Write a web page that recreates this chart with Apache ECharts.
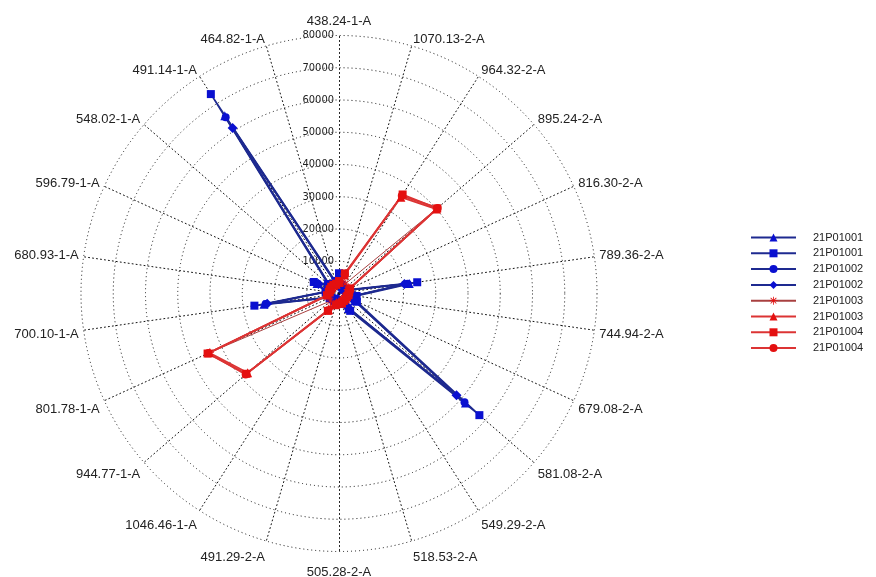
<!DOCTYPE html>
<html>
<head>
<meta charset="utf-8">
<script src="https://cdn.jsdelivr.net/npm/echarts@6/dist/echarts.min.js"></script>
<style>html,body{margin:0;padding:0;background:#fff}#c{width:876px;height:577px}</style>
</head>
<body>
<div id="c"></div>
<script>
// axes in clockwise order starting at the top
var categories = ['438.24-1-A','1070.13-2-A','964.32-2-A','895.24-2-A','816.30-2-A','789.36-2-A','744.94-2-A','679.08-2-A','581.08-2-A','549.29-2-A','518.53-2-A','505.28-2-A','491.29-2-A','1046.46-1-A','944.77-1-A','801.78-1-A','700.10-1-A','680.93-1-A','596.79-1-A','548.02-1-A','491.14-1-A','464.82-1-A'];
var seriesNames = ['21P01001','21P01001 ','21P01002','21P01002 ','21P01003','21P01003 ','21P01004','21P01004 '];
var radialMax = 80000;
var radialStep = 10000;

var s21P01001a = [5500,2500,2000,2000,2500,22000,5000,5500,51900,5500,3000,2500,2000,2500,2500,3000,23500,4000,7500,4000,65500,3500];
var s21P01001b = [6200,2800,2200,2200,2800,24500,5500,6100,57600,6400,3200,2600,2200,2600,2600,3200,26500,4200,8600,4500,73500,4000];
var s21P01002a = [5000,2300,1800,1800,2300,21500,4800,5200,51500,5200,2800,2300,1800,2300,2300,2800,23000,3800,7200,3800,65000,3200];
var s21P01002b = [4800,2200,1700,1700,2200,20500,4600,5000,48200,5000,2700,2200,1700,2200,2200,2700,22500,3600,7000,3600,61000,3000];
var s21P01003a = [3000,4000,3500,40000,3000,2500,2500,2000,2000,2000,2500,2500,3000,5000,3500,44000,3000,2500,2500,2500,2500,2500];
var s21P01003b = [3500,6000,35500,40000,3500,3000,2800,2500,2500,2500,3000,3000,3500,6000,37500,44200,3500,3000,3000,3000,3000,3000];
var s21P01004a = [3800,6500,36500,40300,3800,3200,3000,2700,2700,2700,3200,3200,3800,6400,38000,44800,3800,3200,3200,3200,3200,3200];
var s21P01004b = [3600,6200,36000,40500,3600,3000,2900,2600,2600,2600,3100,3100,3600,6200,38300,44500,3600,3100,3100,3100,3100,3100];

var allValues = [s21P01001a,s21P01001b,s21P01002a,s21P01002b,s21P01003a,s21P01003b,s21P01004a,s21P01004b];

var BLUE_LINE = '#1e2a90', BLUE_MARK = '#0a10d0';
var RED_LINE = '#dc3434', RED_MARK = '#e41010', DARKRED_LINE = '#a84040';
var asterisk = 'path://M-1,-10L1,-10L1,10L-1,10Z M-10,-1L10,-1L10,1L-10,1Z M-7.8,-6.4L-6.4,-7.8L7.8,6.4L6.4,7.8Z M6.4,-7.8L7.8,-6.4L-6.4,7.8L-7.8,6.4Z';
var styles = [
  {sym:'triangle', size:9, line:BLUE_LINE, mark:BLUE_MARK, w:1.5},
  {sym:'rect', size:8, line:BLUE_LINE, mark:BLUE_MARK, w:1.5},
  {sym:'circle', size:8, line:BLUE_LINE, mark:BLUE_MARK, w:1.5},
  {sym:'diamond', size:10, line:BLUE_LINE, mark:BLUE_MARK, w:1.5},
  {sym:asterisk, size:8, line:DARKRED_LINE, mark:RED_MARK, w:1},
  {sym:'triangle', size:9, line:RED_LINE, mark:RED_MARK, w:1.8},
  {sym:'rect', size:8, line:RED_LINE, mark:RED_MARK, w:1.8},
  {sym:'circle', size:8, line:RED_LINE, mark:RED_MARK, w:1.8}
];

// radar (drawn counter-clockwise by ECharts) -> reverse order after first axis
var N = categories.length;
var radarOrder = [0];
for (var k = N - 1; k >= 1; k--) radarOrder.push(k);

// per-label vertical nudge (labels in the lower half sit lower, like the original)
var rich = {};
categories.forEach(function (c, i) {
  var cosA = Math.cos(i * 2 * Math.PI / N);
  var pad;
  if (i === 0) pad = [0, 0, 3, 0];
  else if (i === N / 2) pad = [9, 0, 0, 0];
  else if (cosA < 0) pad = [Math.round(2 * 12 * Math.pow(-cosA, 0.7)), 0, 0, 0];
  else pad = [0, 0, Math.round(4 * cosA), 0];
  rich['n' + i] = {padding: pad, color:'#222', fontSize:13, fontFamily:'"Liberation Sans", Arial, sans-serif'};
});

var CX = 339, CY = 293.5, R = 258;
var dottedRing = {type:[1,3], color:'#111', width:1};
var dottedSpoke = {type:[1,3], color:'#111', width:1};

var series = allValues.map(function (vals, si) {
  var st = styles[si];
  var data = vals.map(function (v, i) { return [v, i]; });
  data.push([vals[0], N]);
  return {
    type:'line', name: seriesNames[si], coordinateSystem:'polar', polarIndex:0,
    data: data, symbol: st.sym, symbolSize: st.size, showAllSymbol:true,
    lineStyle:{color: st.line, width: st.w},
    itemStyle:{color: st.mark},
    emphasis:{disabled:true}
  };
});

var chart = echarts.init(document.getElementById('c'), null, {renderer:'canvas'});
chart.setOption({
  animation:false,
  backgroundColor:'#fff',
  radar: {
    center:[CX, CY], radius:R, startAngle:90, shape:'circle', splitNumber: radialMax / radialStep,
    indicator: radarOrder.map(function (i) {
      return {name: categories[i], min:0, max: radialMax, axisLabel:{show: i === 0}};
    }),
    nameGap: 5,
    axisName: {color:'#222', fontSize:13, fontFamily:'"Liberation Sans", Arial, sans-serif',
      formatter: function (name) { return '{n' + categories.indexOf(name) + '|' + name + '}'; },
      rich: rich},
    splitLine: {lineStyle: dottedRing},
    splitArea: {show:false},
    axisLine: {show:true, lineStyle: dottedSpoke},
    axisTick: {show:false},
    axisLabel: {show:false, color:'#222', fontSize:11, margin:5,
      fontFamily:'"Liberation Sans Narrow", "DejaVu Sans Condensed", "Liberation Sans", Arial, sans-serif',
      formatter: function (v) { return v === 0 ? '' : String(v); }}
  },
  polar: {center:[CX, CY], radius:R},
  angleAxis: {type:'value', min:0, max:N, startAngle:90, clockwise:true, show:false},
  radiusAxis: {type:'value', min:0, max:radialMax, show:false},
  legend: {
    orient:'vertical', left:750, top:232, padding:0, itemWidth:45, itemHeight:10, itemGap:4.8,
    data: seriesNames,
    textStyle:{color:'#222', fontSize:11, fontFamily:'"Liberation Sans", Arial, sans-serif', padding:[0,0,0,12]}
  },
  series: series
});
</script>
</body>
</html>
